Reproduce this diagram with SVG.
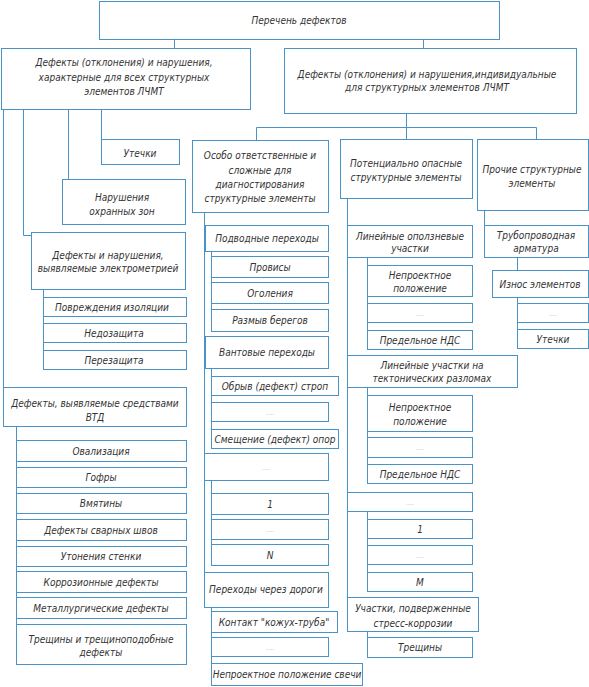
<svg xmlns="http://www.w3.org/2000/svg" width="589" height="687" viewBox="0 0 589 687">
<style>
rect{fill:#fff;stroke:#4a93c6;stroke-width:1}
line{stroke:#4a93c6;stroke-width:1}
text{font-family:"DejaVu Sans Condensed","DejaVu Sans",sans-serif;font-style:italic;font-size:10px;fill:#333;text-anchor:middle;dominant-baseline:central}
text.d{fill:#b0b0b0;font-size:6px;font-style:normal}
</style>
<rect x="0" y="0" width="589" height="687" style="fill:#fff;stroke:none"/>
<g id="connectors">
<line x1="174.5" y1="39" x2="174.5" y2="48"/>
<line x1="423.5" y1="39" x2="423.5" y2="48"/>
<line x1="3.5" y1="109" x2="3.5" y2="388"/>
<line x1="23.5" y1="109" x2="23.5" y2="235.5"/>
<line x1="23.5" y1="235.5" x2="31.5" y2="235.5"/>
<line x1="68.5" y1="109" x2="68.5" y2="179"/>
<line x1="101.5" y1="109" x2="101.5" y2="139"/>
<line x1="43.5" y1="289" x2="43.5" y2="369"/>
<line x1="16.5" y1="426" x2="16.5" y2="664"/>
<line x1="406.5" y1="113" x2="406.5" y2="139"/>
<line x1="256.5" y1="127.5" x2="536.5" y2="127.5"/>
<line x1="256.5" y1="127.5" x2="256.5" y2="140"/>
<line x1="536.5" y1="127.5" x2="536.5" y2="139"/>
<line x1="204.5" y1="212" x2="204.5" y2="607"/>
<line x1="211.5" y1="251" x2="211.5" y2="331"/>
<line x1="211.5" y1="368" x2="211.5" y2="448"/>
<line x1="211.5" y1="480" x2="211.5" y2="565"/>
<line x1="211.5" y1="607" x2="211.5" y2="685"/>
<line x1="347.5" y1="198" x2="347.5" y2="597"/>
<line x1="367.5" y1="257" x2="367.5" y2="349"/>
<line x1="367.5" y1="387" x2="367.5" y2="483"/>
<line x1="367.5" y1="511" x2="367.5" y2="591"/>
<line x1="367.5" y1="631" x2="367.5" y2="657"/>
<line x1="484.5" y1="210" x2="484.5" y2="225"/>
<line x1="517.5" y1="257" x2="517.5" y2="270"/>
<line x1="517.5" y1="297" x2="517.5" y2="348"/>
</g>
<g id="root"><rect x="99.5" y="1.5" width="400" height="38"/><text x="299" y="20">Перечень дефектов</text></g>
<g id="common"><rect x="1.5" y="48.5" width="249" height="61"/><text x="124" y="62">Дефекты (отклонения) и нарушения,</text><text x="124" y="77">характерные для всех структурных</text><text x="124" y="91">элементов ЛЧМТ</text></g>
<g id="individual"><rect x="284.5" y="48.5" width="292" height="65"/><text x="427" y="74">Дефекты (отклонения) и нарушения,индивидуальные</text><text x="427" y="87">для структурных элементов ЛЧМТ</text></g>
<g id="leaks"><rect x="101.5" y="139.5" width="78" height="25"/><text x="140" y="153">Утечки</text></g>
<g id="zones"><rect x="62.5" y="179.5" width="123" height="45"/><text x="122" y="197">Нарушения</text><text x="122" y="211">охранных зон</text></g>
<g id="electro"><rect x="31.5" y="232.5" width="154" height="57"/><text x="108" y="255">Дефекты и нарушения,</text><text x="108" y="268">выявляемые электрометрией</text></g>
<g id="insul"><rect x="43.5" y="297.5" width="143" height="19"/><text x="112" y="307">Повреждения изоляции</text></g>
<g id="under"><rect x="43.5" y="323.5" width="143" height="19"/><text x="114" y="333">Недозащита</text></g>
<g id="over"><rect x="43.5" y="350.5" width="143" height="19"/><text x="114" y="360">Перезащита</text></g>
<g id="vtd"><rect x="3.5" y="387.5" width="183" height="39"/><text x="95" y="403">Дефекты, выявляемые средствами</text><text x="95" y="417">ВТД</text></g>
<g id="v1"><rect x="16.5" y="440.5" width="170" height="21"/><text x="101" y="451">Овализация</text></g>
<g id="v2"><rect x="16.5" y="467.5" width="170" height="20"/><text x="101" y="477.5">Гофры</text></g>
<g id="v3"><rect x="16.5" y="493.5" width="170" height="20"/><text x="101" y="503.5">Вмятины</text></g>
<g id="v4"><rect x="16.5" y="519.5" width="170" height="21"/><text x="101" y="530">Дефекты сварных швов</text></g>
<g id="v5"><rect x="16.5" y="546.5" width="170" height="20"/><text x="101" y="556.5">Утонения стенки</text></g>
<g id="v6"><rect x="16.5" y="571.5" width="170" height="21"/><text x="101" y="582">Коррозионные дефекты</text></g>
<g id="v7"><rect x="16.5" y="597.5" width="170" height="21"/><text x="101" y="608">Металлургические дефекты</text></g>
<g id="v8"><rect x="16.5" y="624.5" width="170" height="40"/><text x="101" y="639">Трещины и трещиноподобные</text><text x="101" y="652">дефекты</text></g>
<g id="special"><rect x="192.5" y="140.5" width="136" height="72"/><text x="260" y="155">Особо ответственные и</text><text x="260" y="170">сложные для</text><text x="260" y="184">диагностирования</text><text x="260" y="198">структурные элементы</text></g>
<g id="underwater"><rect x="205.5" y="225.5" width="123" height="26"/><text x="267" y="238">Подводные переходы</text></g>
<g id="sag"><rect x="211.5" y="256.5" width="117" height="21"/><text x="270" y="267">Провисы</text></g>
<g id="expose"><rect x="211.5" y="282.5" width="117" height="21"/><text x="270" y="293">Оголения</text></g>
<g id="erosion"><rect x="211.5" y="309.5" width="117" height="22"/><text x="270" y="320.5">Размыв берегов</text></g>
<g id="cable"><rect x="205.5" y="336.5" width="123" height="32"/><text x="267" y="352">Вантовые переходы</text></g>
<g id="c1"><rect x="211.5" y="376.5" width="127" height="19"/><text x="275" y="386">Обрыв (дефект) строп</text></g>
<g id="c2"><rect x="211.5" y="402.5" width="117" height="19"/><text class="d" x="270" y="412">.....</text></g>
<g id="c3"><rect x="211.5" y="429.5" width="127" height="19"/><text x="275" y="439">Смещение (дефект) опор</text></g>
<g id="sdots"><rect x="204.5" y="453.5" width="124" height="27"/><text class="d" x="266" y="467">.....</text></g>
<g id="s1"><rect x="211.5" y="493.5" width="117" height="21"/><text x="270" y="504">1</text></g>
<g id="s2"><rect x="211.5" y="519.5" width="117" height="20"/><text class="d" x="270" y="529.5">.....</text></g>
<g id="sN"><rect x="211.5" y="544.5" width="117" height="21"/><text x="270" y="555">N</text></g>
<g id="roads"><rect x="204.5" y="572.5" width="124" height="35"/><text x="266" y="589">Переходы через дороги</text></g>
<g id="r1"><rect x="211.5" y="611.5" width="126" height="21"/><text x="274" y="622">Контакт "кожух-труба"</text></g>
<g id="r2"><rect x="211.5" y="637.5" width="117" height="19"/><text class="d" x="270" y="647">.....</text></g>
<g id="r3"><rect x="211.5" y="663.5" width="151" height="22"/><text x="287" y="674.5">Непроектное положение свечи</text></g>
<g id="danger"><rect x="340.5" y="139.5" width="132" height="59"/><text x="406" y="163">Потенциально опасные</text><text x="406" y="177">структурные элементы</text></g>
<g id="landslide"><rect x="347.5" y="225.5" width="125" height="32"/><text x="410" y="236">Линейные оползневые</text><text x="410" y="248">участки</text></g>
<g id="l1"><rect x="367.5" y="265.5" width="105" height="31"/><text x="420" y="275">Непроектное</text><text x="420" y="288">положение</text></g>
<g id="l2"><rect x="367.5" y="303.5" width="105" height="19"/><text class="d" x="420" y="313">.....</text></g>
<g id="l3"><rect x="367.5" y="330.5" width="105" height="19"/><text x="420" y="340">Предельное НДС</text></g>
<g id="tectonic"><rect x="347.5" y="355.5" width="170" height="32"/><text x="432" y="365">Линейные участки на</text><text x="432" y="378">тектонических разломах</text></g>
<g id="t1"><rect x="367.5" y="395.5" width="105" height="36"/><text x="420" y="407">Непроектное</text><text x="420" y="421">положение</text></g>
<g id="t2"><rect x="367.5" y="437.5" width="105" height="20"/><text class="d" x="420" y="447.5">.....</text></g>
<g id="t3"><rect x="367.5" y="464.5" width="105" height="19"/><text x="420" y="474">Предельное НДС</text></g>
<g id="pdots"><rect x="347.5" y="492.5" width="125" height="19"/><text class="d" x="410" y="502">.....</text></g>
<g id="p1"><rect x="367.5" y="519.5" width="105" height="19"/><text x="420" y="529">1</text></g>
<g id="p2"><rect x="367.5" y="545.5" width="105" height="19"/><text class="d" x="420" y="555">.....</text></g>
<g id="pM"><rect x="367.5" y="572.5" width="105" height="19"/><text x="420" y="582">M</text></g>
<g id="scc"><rect x="347.5" y="597.5" width="131" height="34"/><text x="413" y="608">Участки, подверженные</text><text x="413" y="623">стресс-коррозии</text></g>
<g id="cracks"><rect x="367.5" y="637.5" width="105" height="20"/><text x="420" y="647.5">Трещины</text></g>
<g id="other"><rect x="477.5" y="139.5" width="111" height="71"/><text x="532" y="169">Прочие структурные</text><text x="532" y="183">элементы</text></g>
<g id="valves"><rect x="484.5" y="225.5" width="104" height="32"/><text x="536" y="235">Трубопроводная</text><text x="536" y="248">арматура</text></g>
<g id="wear"><rect x="492.5" y="270.5" width="96" height="27"/><text x="540" y="284">Износ элементов</text></g>
<g id="o2"><rect x="517.5" y="303.5" width="71" height="19"/><text class="d" x="553" y="313">.....</text></g>
<g id="o3"><rect x="517.5" y="329.5" width="71" height="19"/><text x="553" y="339">Утечки</text></g>
</svg>
